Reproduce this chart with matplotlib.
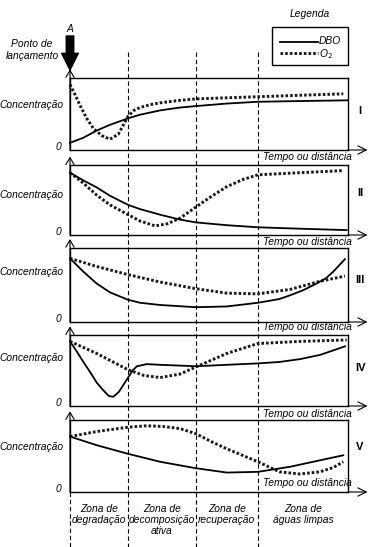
import matplotlib
matplotlib.use("Agg")
import matplotlib.pyplot as plt
from matplotlib import transforms

plt.rcParams["font.family"] = ["Liberation Sans", "DejaVu Sans"]

# zone boundaries along the river (% of the horizontal axis)
zone_edges = [0, 20.9, 45.3, 67.6, 100]
zone_labels = ["Zona de\ndegradação", "Zona de\ndecomposição\nativa",
               "Zona de\nrecuperação", "Zona de\náguas limpas"]
panel_names = ["I", "II", "III", "IV", "V"]

# curves: x in % of axis, y as fraction of box height
dbo_x = [
    [0, 4.8, 9.6, 14.4, 20.9, 25.2, 32.4, 39.6, 45.3, 56.4, 67.6, 82.7, 100],
    [0, 4.8, 9.6, 14.4, 20.9, 25.2, 32.4, 39.6, 45.3, 56.4, 67.6, 82.7, 99.5],
    [0, 4.8, 9.6, 14.4, 20.9, 25.2, 32.4, 45.3, 56.4, 67.6, 75.3, 79.1, 83.9, 88.7, 92.0, 94.7, 98.9],
    [0, 2.4, 4.8, 7.2, 9.6, 12.0, 14.0, 15.6, 17.6, 20.9, 22.5, 24.1, 27.6, 32.4, 45.3, 56.4, 67.6, 75.3, 82.7, 90.0, 98.9],
    [0, 9.6, 20.9, 32.4, 45.3, 56.4, 67.6, 79.1, 89.9, 98.3],
]
dbo_y = [
    [0.10, 0.17, 0.27, 0.35, 0.44, 0.49, 0.55, 0.59, 0.61, 0.645, 0.67, 0.68, 0.69],
    [0.89, 0.78, 0.68, 0.56, 0.43, 0.37, 0.29, 0.22, 0.18, 0.14, 0.11, 0.09, 0.07],
    [0.86, 0.68, 0.52, 0.40, 0.30, 0.26, 0.23, 0.20, 0.21, 0.26, 0.31, 0.36, 0.43, 0.52, 0.59, 0.68, 0.85],
    [0.91, 0.77, 0.62, 0.48, 0.33, 0.22, 0.14, 0.13, 0.20, 0.40, 0.50, 0.56, 0.59, 0.58, 0.56, 0.58, 0.60, 0.62, 0.66, 0.72, 0.84],
    [0.77, 0.65, 0.53, 0.42, 0.33, 0.27, 0.28, 0.35, 0.44, 0.51],
]
o2_x = [
    [0, 1.8, 3.6, 6.0, 8.4, 11.4, 14.4, 17.4, 20.9, 23.0, 25.2, 28.8, 32.4, 39.6, 45.3, 56.4, 67.6, 82.7, 98.3],
    [0, 4.8, 9.6, 14.4, 20.9, 25.2, 30.6, 35.0, 39.6, 45.3, 50.8, 56.4, 62.0, 67.6, 82.7, 98.3],
    [0, 9.6, 20.9, 32.4, 45.3, 56.4, 67.6, 79.1, 89.9, 98.9],
    [0, 9.6, 20.9, 26.6, 32.4, 39.6, 45.3, 56.4, 67.6, 82.7, 99.5],
    [0, 9.6, 20.9, 27.6, 33.6, 39.6, 45.3, 50.8, 56.4, 62.0, 67.6, 75.3, 82.7, 89.9, 94.7, 98.3],
]
o2_y = [
    [0.91, 0.77, 0.62, 0.44, 0.30, 0.20, 0.15, 0.22, 0.47, 0.55, 0.59, 0.63, 0.655, 0.69, 0.71, 0.725, 0.74, 0.76, 0.78],
    [0.89, 0.74, 0.57, 0.43, 0.29, 0.20, 0.13, 0.16, 0.24, 0.40, 0.55, 0.69, 0.79, 0.86, 0.89, 0.92],
    [0.86, 0.75, 0.64, 0.54, 0.45, 0.39, 0.38, 0.44, 0.55, 0.62],
    [0.91, 0.74, 0.51, 0.43, 0.40, 0.45, 0.55, 0.74, 0.88, 0.91, 0.93],
    [0.77, 0.84, 0.90, 0.92, 0.91, 0.88, 0.81, 0.70, 0.60, 0.51, 0.42, 0.28, 0.25, 0.28, 0.34, 0.42],
]

# panel boxes (top, bottom) in pixels
W, H = 378, 547
box_left, box_right = 70, 348
panel_px = [(78, 150), (165, 235), (248, 322), (335, 406), (420, 492)]
tempo_y = [157, 242, 327, 414, 483]
conc_y = [105, 195, 272, 358, 447]
roman_y = [111, 193, 280, 368, 447]

fig = plt.figure(figsize=(W / 100, H / 100), dpi=100)
ax0 = fig.add_axes([0, 0, 1, 1])
ax0.set_xlim(0, W)
ax0.set_ylim(H, 0)
ax0.axis("off")

dotted = dict(color="#1a1a1a", lw=2.1, linestyle=(0, (0.9, 0.7)))
solid = dict(color="black", lw=1.3)
txt = dict(fontsize=7.4, style="italic")

axes = []
for i, (top, bot) in enumerate(panel_px):
    ax = fig.add_axes([box_left / W, 1 - bot / H, (box_right - box_left) / W, (bot - top) / H])
    ax.set_facecolor("none")
    ax.set_xlim(0, 100)
    ax.set_ylim(0, 1)
    ax.set_xticks([])
    ax.set_yticks([])
    for s in ax.spines.values():
        s.set_linewidth(1.0)
    ax.plot(o2_x[i], o2_y[i], **dotted, clip_on=False)
    ax.plot(dbo_x[i], dbo_y[i], **solid, clip_on=False)
    # axis arrows
    ax.annotate("", xy=(0, 1.12), xytext=(0, 0), xycoords="axes fraction",
                arrowprops=dict(arrowstyle="->,head_length=0.5,head_width=0.3", lw=0.8,
                                color="black", shrinkA=0, shrinkB=0, mutation_scale=10))
    ax.annotate("", xy=(1.07, 0), xytext=(1.0, 0), xycoords="axes fraction",
                arrowprops=dict(arrowstyle="->,head_length=0.6,head_width=0.3", lw=0.8,
                                color="black", shrinkA=0, shrinkB=0, mutation_scale=10))
    ax0.text(352, tempo_y[i], "Tempo ou distância", ha="right", va="center", **txt)
    ax0.text(64, conc_y[i], "Concentração", ha="right", va="center", **txt)
    ax0.text(61, bot - 3, "0", ha="right", va="center", **txt)
    ax0.text(360, roman_y[i], panel_names[i], ha="center", va="center",
             fontsize=8, fontweight="bold")
    axes.append(ax)

# zone boundaries through all panels
blend = transforms.blended_transform_factory(axes[0].transData, ax0.transData)
for xb in zone_edges[1:-1]:
    ax0.plot([xb, xb], [52, 547], transform=blend, color="black", lw=0.8,
             linestyle=(0, (4, 2.5)), clip_on=False, zorder=0)
ax0.plot([zone_edges[0], zone_edges[0]], [492, 547], transform=blend, color="black",
         lw=0.8, linestyle=(0, (4, 2.5)), clip_on=False, zorder=0)
for j, lab in enumerate(zone_labels):
    xc = (zone_edges[j] + zone_edges[j + 1]) / 2
    ax0.text(xc, 504, lab, transform=blend, ha="center", va="top",
             linespacing=1.15, **txt)

# release point
ax0.text(70, 29, "A", ha="center", va="center", **txt)
ax0.annotate("", xy=(70, 70), xytext=(70, 36),
             arrowprops=dict(arrowstyle="simple,head_length=1.0,head_width=1.0,tail_width=0.45",
                             color="black", shrinkA=0, shrinkB=0, mutation_scale=12))
ax0.text(32, 50, "Ponto de\nlançamento", ha="center", va="center",
         linespacing=1.3, **txt)

# legend
ax0.text(310, 14, "Legenda", ha="center", va="center", **txt)
ax0.add_patch(plt.Rectangle((272, 27), 76, 38, fill=False, lw=1.0, color="black"))
ax0.plot([280, 318], [42, 42], **solid)
ax0.plot([280, 318], [53, 53], **dotted)
ax0.text(319, 41, "DBO", ha="left", va="center", **txt)
ax0.text(319, 54, "O$_2$", ha="left", va="center", **txt)

fig.savefig("out.png", dpi=100, facecolor="white")
